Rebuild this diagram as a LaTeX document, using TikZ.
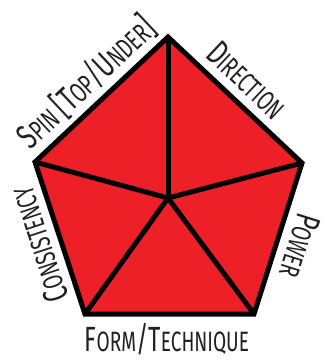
\documentclass[tikz,border=0pt]{standalone}
\usepackage{fontspec}
\newfontfamily\labelfont[FakeStretch=0.68]{Fira Sans}
\usepackage{tikz}
\usetikzlibrary{positioning}
\definecolor{pentared}{HTML}{EE2027}
\definecolor{labelgray}{HTML}{231F20}
% fake small caps: big initial, smaller rest
\newcommand{\bigc}[1]{{\fontsize{35}{35}\selectfont #1}}
\newcommand{\smc}[1]{{\fontsize{28}{28}\selectfont #1}}

\begin{document}
\begin{tikzpicture}[x=1pt, y=-1pt, every node/.style={text=labelgray, font=\labelfont, inner sep=0pt}]
                \useasboundingbox (0,0) rectangle (327,361);
                % pentagon corners and hub
                \coordinate (top) at (168,37);
                \coordinate (right) at (302,163);
                \coordinate (botright) at (254,314);
                \coordinate (botleft) at (85,314);
                \coordinate (left) at (35,162);
                \coordinate (hub) at (168,198);
                \filldraw[fill=pentared, draw=black, line width=5pt, line join=miter] (top) -- (right) -- (botright) -- (botleft) -- (left) -- cycle;
                \draw[line width=5pt] (hub) -- (top);
                \draw[line width=5pt] (hub) -- (right);
                \draw[line width=5pt] (hub) -- (botright);
                \draw[line width=5pt] (hub) -- (botleft);
                \draw[line width=5pt] (hub) -- (left);
                % labels along the sides
                \node[rotate=43.2] (spin) at (86,82) {\bigc{S}\smc{PIN }\bigc{[T}\smc{OP}\bigc{/U}\smc{NDER}\bigc{]}};
                \node[rotate=-43.2] (direction) at (247,80) {\bigc{D}\smc{IRECTION}};
                \node[rotate=-107.6] (power) at (300,246) {\bigc{P}\smc{OWER}};
                \node[rotate=108.2] (consistency) at (39,245) {\bigc{C}\smc{ONSISTENCY}};
                \node (form) at (167,339) {\bigc{F}\smc{ORM}\bigc{/T}\smc{ECHNIQUE}};
            \end{tikzpicture}
\end{document}
